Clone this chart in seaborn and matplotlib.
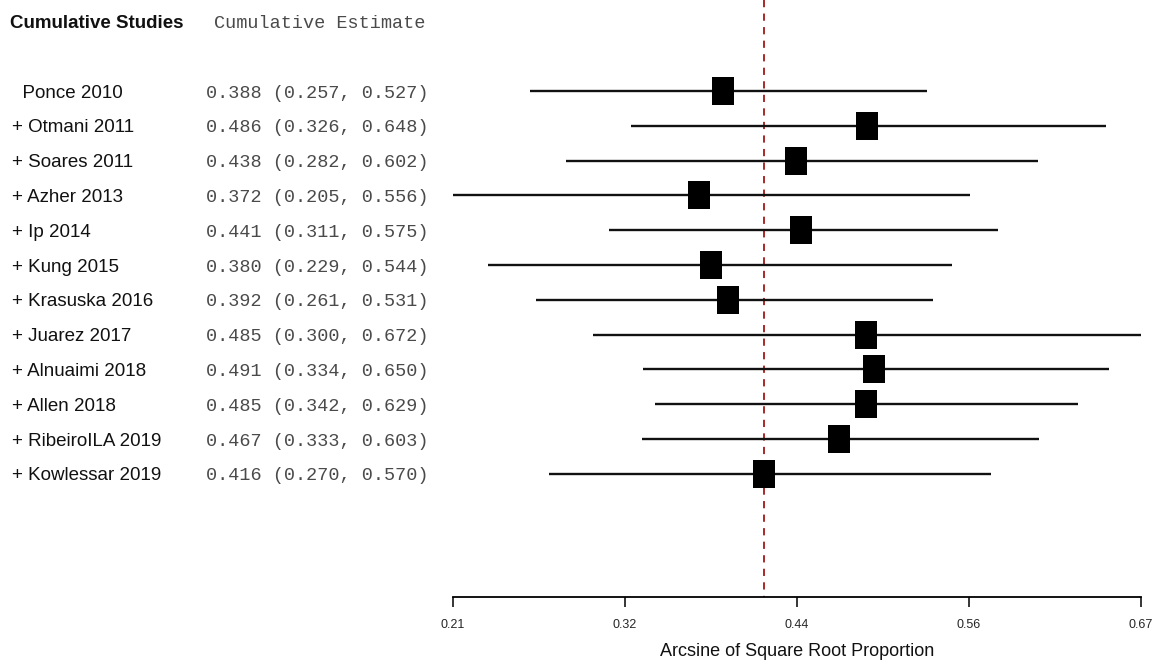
import numpy as np
import pandas as pd
import matplotlib
matplotlib.use("Agg")
import matplotlib.pyplot as plt
import matplotlib.transforms as mtransforms
from matplotlib.path import Path
import seaborn as sns

# Cumulative meta-analysis data
studies = ["Ponce 2010", "Otmani 2011", "Soares 2011", "Azher 2013", "Ip 2014",
           "Kung 2015", "Krasuska 2016", "Juarez 2017", "Alnuaimi 2018",
           "Allen 2018", "RibeiroILA 2019", "Kowlessar 2019"]
estimate = [0.388, 0.486, 0.438, 0.372, 0.441, 0.380, 0.392, 0.485, 0.491, 0.485, 0.467, 0.416]
ci_lower = [0.257, 0.326, 0.282, 0.205, 0.311, 0.229, 0.261, 0.300, 0.334, 0.342, 0.333, 0.270]
ci_upper = [0.527, 0.648, 0.602, 0.556, 0.575, 0.544, 0.531, 0.672, 0.650, 0.629, 0.603, 0.570]
tick_labels = ["0.21", "0.32", "0.44", "0.56", "0.67"]
pooled = 0.416

df = pd.DataFrame({"study": studies, "est": estimate, "lo": ci_lower, "hi": ci_upper})
df["row"] = np.arange(len(df))
df["label"] = ["  " + s if i == 0 else "+ " + s for i, s in enumerate(df["study"])]
df["ci_text"] = [f"{e:.3f} ({l:.3f}, {h:.3f})" for e, l, h in zip(df["est"], df["lo"], df["hi"])]

sns.set_style("white")
plt.rcParams["font.family"] = ["Liberation Sans", "DejaVu Sans"]

fig = plt.figure(figsize=(11.6, 6.66), dpi=100)
ax = fig.add_axes([0, 0, 1, 1])

# pixel-based layout: 0.205 -> px 453, 0.672 -> px 1141
x_min, x_max = min(ci_lower), max(ci_upper)
px_per_unit = 688 / (x_max - x_min)
ax.set_xlim(x_min - 453 / px_per_unit, x_min + (1160 - 453) / px_per_unit)
row_px = 34.8
ax.set_ylim((666 - 91) / row_px, -91 / row_px)
y_axis = (597 - 91) / row_px

# CI lines
ax.hlines(df["row"], df["lo"], df["hi"], color="#111111", lw=1.7, zorder=2)

# squares (slightly taller than wide)
box = Path([(-0.39, -0.5), (0.39, -0.5), (0.39, 0.5), (-0.39, 0.5), (-0.39, -0.5)],
           [Path.MOVETO, Path.LINETO, Path.LINETO, Path.LINETO, Path.CLOSEPOLY])
sns.scatterplot(data=df, x="est", y="row", marker=box, s=400, color="black",
                linewidth=0, ax=ax, zorder=3, legend=False)

# pooled estimate
ax.vlines(pooled, ax.get_ylim()[1], y_axis, color="#a01818", lw=1.3,
          linestyles=(0, (4, 3.5)), zorder=1)

# text columns
tr = mtransforms.blended_transform_factory(ax.transAxes, ax.transData)
for _, r in df.iterrows():
    ax.text(12 / 1160, r["row"] + 0.06, r["label"], transform=tr, ha="left", va="center",
            fontsize=13.5, color="#111111")
    ax.text(206 / 1160, r["row"] + 0.06, r["ci_text"], transform=tr, ha="left", va="center",
            fontsize=13.3, family="Liberation Mono", color="#4a4a4a")

y_head = (23 - 91) / row_px
ax.text(10 / 1160, y_head, "Cumulative Studies", transform=tr, ha="left", va="center",
        fontsize=13.5, fontweight="bold", color="#111111")
ax.text(214 / 1160, y_head, "Cumulative Estimate", transform=tr, ha="left", va="center",
        fontsize=13.3, family="Liberation Mono", color="#4a4a4a")

# x axis
for s in ["left", "top", "right"]:
    ax.spines[s].set_visible(False)
ax.spines["bottom"].set_position(("data", y_axis))
ax.spines["bottom"].set_bounds(x_min, x_max)
ax.spines["bottom"].set_color("black")
ax.spines["bottom"].set_linewidth(1.3)
ax.set_xticks(np.linspace(x_min, x_max, 5))
ax.set_xticklabels(tick_labels, fontsize=9)
ax.tick_params(axis="x", direction="out", length=7, width=1.3, pad=9, bottom=True)
ax.set_yticks([])
ax.set_xlabel("")
ax.set_ylabel("")
ax.text((x_min + x_max) / 2, (652 - 91) / row_px, "Arcsine of Square Root Proportion",
        ha="center", va="center", fontsize=13, color="#111111")

fig.savefig("out.png", dpi=100)
